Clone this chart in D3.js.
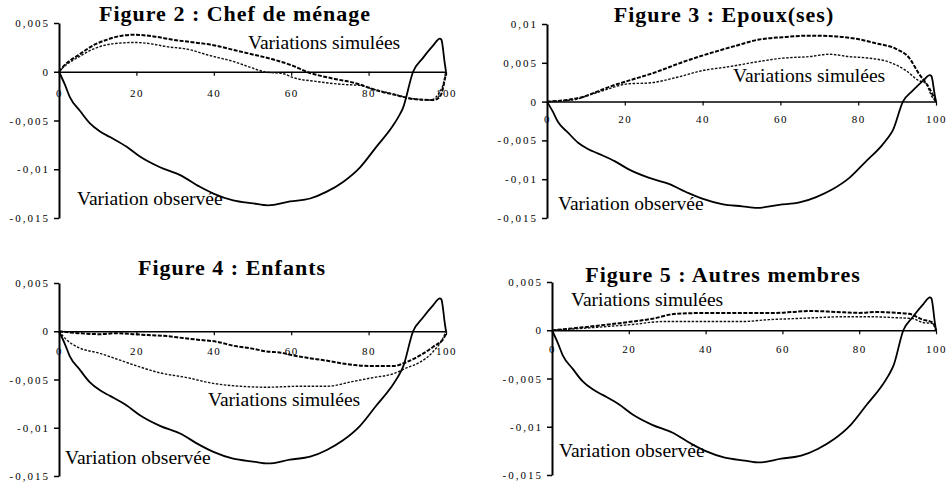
<!DOCTYPE html>
<html>
<head>
<meta charset="utf-8">
<script src="https://cdn.jsdelivr.net/npm/d3@7"></script>
<style>
  body { margin: 0; background: #fff; }
  svg { display: block; }
</style>
</head>
<body>
<svg id="chart" width="946" height="482"></svg>
<script>
// observed variation (same curve in every figure): [percentile, value]
const observed = [[0,0],[1.5,-0.0013],[2.8,-0.0026],[5.4,-0.0040],[8,-0.0053],[10.5,-0.0061],[13.2,-0.0067],[17.5,-0.0077],[20.9,-0.0087],[26.1,-0.0098],[31.3,-0.0106],[36.4,-0.0118],[39.9,-0.0125],[45,-0.0132],[50.2,-0.0135],[54,-0.0137],[59.7,-0.0133],[64.9,-0.0130],[69.2,-0.0123],[73.4,-0.0113],[77.8,-0.0098],[82,-0.0077],[86,-0.0057],[87.6,-0.0047],[88.9,-0.0037],[91.5,0],[94,0.0014],[96.7,0.0027],[98.4,0.0034],[98.8,0.0033],[99.7,0.0008],[100,0]];

// simulated variations, two per figure
const chefA = [[0,0],[1.5,0.0007],[5,0.0017],[9.3,0.0028],[12.5,0.0033],[16.2,0.0037],[19.6,0.0038],[24.8,0.0036],[29.1,0.0033],[35.1,0.0030],[40.3,0.0027],[45.5,0.0022],[49.8,0.0018],[55,0.0013],[60.5,0.0006],[64,0],[70.8,-0.0007],[76.9,-0.0012],[82,-0.0019],[87.2,-0.0024],[91.5,-0.0028],[96.7,-0.0029],[98.5,-0.0025],[100,-0.0001]];
const chefB = [[0,0],[1.5,0.0006],[5,0.0015],[9.3,0.0024],[14.5,0.0029],[19.6,0.0030],[24.8,0.0028],[27.4,0.0026],[33.4,0.0023],[38.6,0.0017],[45.5,0.0010],[49.8,0.0004],[53,0],[58,-0.0002],[60.5,-0.0006],[66.6,-0.0010],[73.4,-0.0013],[77.8,-0.0014],[80.4,-0.0017],[85.5,-0.0022],[90.7,-0.0027],[95.9,-0.0029],[98.9,-0.0017],[100,0]];

const epouxA = [[0,0],[5,0.0002],[9.2,0.0006],[12.5,0.0012],[16,0.0019],[21,0.0027],[28,0.0038],[34.9,0.0051],[41.7,0.0062],[48.6,0.0072],[54.5,0.0080],[60.6,0.0083],[67.4,0.0085],[74.3,0.0084],[79.4,0.0081],[84.6,0.0075],[89.7,0.0068],[93,0.0057],[95.6,0.0036],[98.2,0.0018],[100,0]];
const epouxB = [[0,0],[4,0.0001],[7.5,0.0003],[10,0.0007],[14.3,0.0014],[21,0.0023],[26.2,0.0024],[33.2,0.0031],[40,0.0040],[46.8,0.0045],[53.7,0.0051],[60.6,0.0056],[67.4,0.0058],[72.5,0.0061],[77.6,0.0058],[82.8,0.0056],[87.9,0.0051],[92.3,0.0040],[95.6,0.0027],[97.3,0.0024],[99,0.0006],[100,0]];

const enfantsA = [[0,0],[5,-0.0002],[10.6,-0.0003],[15,-0.0002],[19.2,-0.0003],[23,-0.0004],[27.8,-0.0005],[32,-0.0007],[36.4,-0.0009],[41,-0.0011],[45,-0.0015],[50,-0.0018],[53.7,-0.0021],[57,-0.0022],[60.5,-0.0025],[66.6,-0.0029],[70,-0.0031],[74.3,-0.0034],[81.2,-0.0036],[86.4,-0.0036],[89.8,-0.0032],[93.3,-0.0025],[96.7,-0.0016],[99.6,-0.0006],[100,0]];
const enfantsB = [[0,0],[2,-0.0009],[4.6,-0.0016],[10.6,-0.0023],[15.8,-0.0030],[20.9,-0.0037],[26,-0.0043],[33,-0.0048],[39.8,-0.0054],[46.8,-0.0057],[53.7,-0.0058],[62.3,-0.0057],[69.2,-0.0057],[76,-0.0052],[81.2,-0.0048],[86.4,-0.0044],[89.8,-0.0038],[93.3,-0.0032],[96.7,-0.0021],[99.6,-0.0004],[100,0]];

const autresA = [[0,0],[8,0.0003],[14.8,0.0006],[21,0.0009],[26.2,0.0012],[32.3,0.0017],[40.9,0.0018],[49.6,0.0018],[58.3,0.0018],[62.7,0.0019],[67,0.0020],[74,0.0019],[80,0.0018],[84.4,0.0019],[89.6,0.0018],[93,0.0017],[96.5,0.0011],[99.1,0.0008],[100,0]];
const autresB = [[0,0],[8,0.0002],[14.8,0.0004],[21,0.0006],[28.8,0.0009],[35.7,0.0009],[42.7,0.0009],[49.6,0.0009],[56.5,0.0011],[62.7,0.0012],[68.8,0.0013],[75.7,0.0014],[82.6,0.0014],[89.6,0.0013],[94,0.0012],[96.5,0.0008],[99.1,0.0007],[100,0]];

const xTicks = [0, 20, 40, 60, 80, 100];
const yTicksSmall = [0.005, 0, -0.005, -0.01, -0.015];
const yTicksLarge = [0.01, 0.005, 0, -0.005, -0.01, -0.015];
const titles = ["Figure 2 : Chef de ménage", "Figure 3 : Epoux(ses)", "Figure 4 : Enfants", "Figure 5 : Autres membres"];
const labelSim = "Variations simulées";
const labelObs = "Variation observée";

// layout of the four panels
const panels = [
  {title: titles[0], sims: [chefA, chefB], yTicks: yTicksSmall,
   xr: [59, 446], yr: [218, 23], xPad: 13, titleX: 235, titleY: 21,
   sim: [248, 49], obs: [77, 205]},
  {title: titles[1], sims: [epouxA, epouxB], yTicks: yTicksLarge,
   xr: [547, 936], yr: [218, 24], xPad: 10, titleX: 724, titleY: 22,
   sim: [733, 82], obs: [558, 210]},
  {title: titles[2], sims: [enfantsA, enfantsB], yTicks: yTicksSmall,
   xr: [59, 446], yr: [476, 283], xPad: 12, titleX: 232, titleY: 275,
   sim: [208, 406], obs: [65, 464]},
  {title: titles[3], sims: [autresA, autresB], yTicks: yTicksSmall,
   xr: [552, 936], yr: [475, 282], xPad: 11, titleX: 723, titleY: 282,
   sim: [571, 306], obs: [559, 457]}
];

const serif = "'Liberation Serif', 'Times New Roman', serif";
const fmt = d => String(d).replace(".", ",");
const simStyles = [
  {stroke: "#000", width: 2, dash: "4,1.5"},
  {stroke: "#111", width: 1.4, dash: "2.5,1.5"}
];

const svg = d3.select("#chart");

panels.forEach(p => {
  const x = d3.scaleLinear().domain([0, 100]).range(p.xr);
  const y = d3.scaleLinear().domain(d3.extent(p.yTicks)).range(p.yr);
  const g = svg.append("g");

  // y axis
  g.append("g")
      .attr("transform", `translate(${p.xr[0]},0)`)
      .call(d3.axisLeft(y).tickValues(p.yTicks).tickFormat(fmt).tickSize(5).tickPadding(4).tickSizeOuter(0))
      .call(a => a.select(".domain").attr("stroke-width", 2))
      .call(a => a.selectAll(".tick line").attr("stroke-width", 1.5))
      .call(a => a.selectAll("text")
          .attr("font-family", serif).attr("font-size", 11)
          .attr("letter-spacing", "2px").attr("fill", "#000"))
      .attr("font-family", null).attr("font-size", null);

  // x axis on zero line
  g.append("g")
      .attr("transform", `translate(0,${y(0)})`)
      .call(d3.axisBottom(x).tickValues(xTicks).tickFormat(d => d).tickSize(4).tickPadding(p.xPad).tickSizeOuter(0))
      .call(a => a.select(".domain").attr("stroke-width", 1.5))
      .call(a => a.selectAll(".tick line").attr("stroke-width", 1.2))
      .call(a => a.selectAll("text")
          .attr("font-family", serif).attr("font-size", 11)
          .attr("letter-spacing", "1.5px").attr("fill", "#000"))
      .attr("font-family", null).attr("font-size", null);

  const line = d3.line().curve(d3.curveMonotoneX).x(d => x(d[0])).y(d => y(d[1]));

  p.sims.forEach((s, i) => {
    g.append("path")
        .datum(s)
        .attr("fill", "none")
        .attr("stroke", simStyles[i].stroke)
        .attr("stroke-width", simStyles[i].width)
        .attr("stroke-dasharray", simStyles[i].dash)
        .attr("d", line);
  });

  g.append("path")
      .datum(observed)
      .attr("fill", "none")
      .attr("stroke", "#000")
      .attr("stroke-width", 1.8)
      .attr("stroke-linejoin", "round")
      .attr("d", line);

  g.append("text")
      .attr("x", p.titleX).attr("y", p.titleY)
      .attr("text-anchor", "middle")
      .attr("font-family", serif).attr("font-weight", "bold")
      .attr("font-size", 22).attr("letter-spacing", "1px")
      .text(p.title);

  g.append("text")
      .attr("x", p.sim[0]).attr("y", p.sim[1])
      .attr("font-family", serif).attr("font-size", 19.5)
      .text(labelSim);

  g.append("text")
      .attr("x", p.obs[0]).attr("y", p.obs[1])
      .attr("font-family", serif).attr("font-size", 19.5)
      .text(labelObs);
});
</script>
</body>
</html>
